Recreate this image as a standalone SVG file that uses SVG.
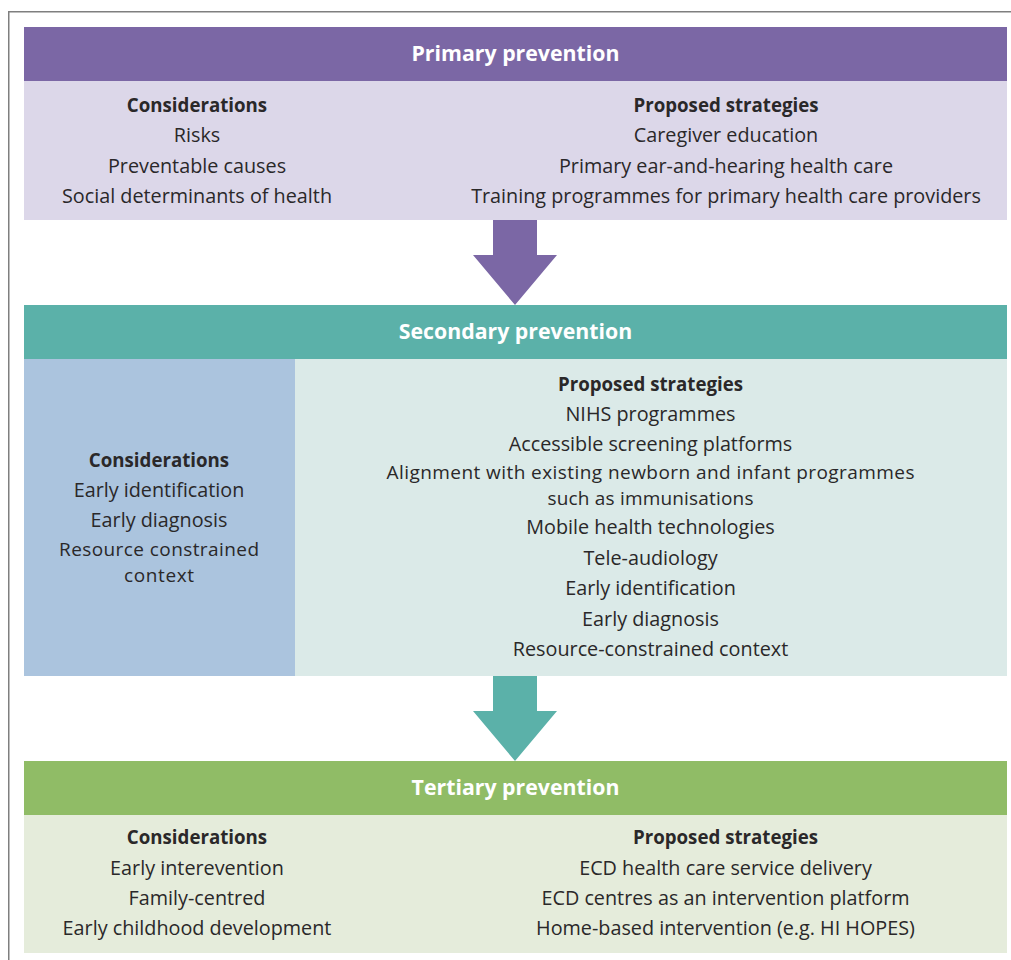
<svg xmlns="http://www.w3.org/2000/svg" width="1011" height="960" viewBox="0 0 1011 960">
<style>
.t{font-family:"Open Sans","Noto Sans","Liberation Sans",sans-serif;font-size:19.8px;fill:#2a2829;text-anchor:middle}
.w{font-size:19px}
.b{font-weight:bold;font-size:18.7px}
.h{font-family:"Open Sans","Noto Sans","Liberation Sans",sans-serif;font-size:21.3px;font-weight:bold;fill:#ffffff;text-anchor:middle}
</style>
<rect width="1011" height="960" fill="#ffffff"/>
<path d="M8.75 960 V11.75 H1011" fill="none" stroke="#7f7f7f" stroke-width="1.5"/>
<g id="primary">
<rect x="24" y="27" width="983" height="54" fill="#7b67a5"/>
<rect x="24" y="81" width="983" height="139" fill="#dcd7e9"/>
<text class="h" x="515.5" y="61">Primary prevention</text>
<text class="t b" x="197" y="112">Considerations</text>
<text class="t" x="197" y="142">Risks</text>
<text class="t" x="197" y="173">Preventable causes</text>
<text class="t" x="197" y="203">Social determinants of health</text>
<text class="t b" x="726" y="112">Proposed strategies</text>
<text class="t" x="726" y="142">Caregiver education</text>
<text class="t" x="726" y="173">Primary ear-and-hearing health care</text>
<text class="t" x="726" y="203">Training programmes for primary health care providers</text>
</g>
<g id="secondary">
<rect x="24" y="305" width="983" height="54" fill="#5bb1a9"/>
<rect x="24" y="359" width="271" height="317" fill="#abc4de"/>
<rect x="295" y="359" width="712" height="317" fill="#dbeae8"/>
<text class="h" x="515.5" y="339">Secondary prevention</text>
<text class="t b" x="159" y="467">Considerations</text>
<text class="t" x="159" y="497">Early identification</text>
<text class="t" x="159" y="527">Early diagnosis</text>
<text class="t w" x="159" y="556" textLength="200" lengthAdjust="spacing">Resource constrained</text>
<text class="t w" x="159" y="582" textLength="70" lengthAdjust="spacing">context</text>
<text class="t b" x="650.5" y="391">Proposed strategies</text>
<text class="t" x="650.5" y="421">NIHS programmes</text>
<text class="t" x="650.5" y="451">Accessible screening platforms</text>
<text class="t w" x="650.5" y="479" textLength="528" lengthAdjust="spacing">Alignment with existing newborn and infant programmes</text>
<text class="t w" x="650.5" y="505" textLength="206" lengthAdjust="spacing">such as immunisations</text>
<text class="t" x="650.5" y="534">Mobile health technologies</text>
<text class="t" x="650.5" y="565">Tele-audiology</text>
<text class="t" x="650.5" y="595">Early identification</text>
<text class="t" x="650.5" y="626">Early diagnosis</text>
<text class="t" x="650.5" y="656">Resource-constrained context</text>
</g>
<g id="tertiary">
<rect x="24" y="761" width="983" height="54" fill="#90bc66"/>
<rect x="24" y="815" width="983" height="138" fill="#e5ecdb"/>
<text class="h" x="515.5" y="795">Tertiary prevention</text>
<text class="t b" x="197" y="844">Considerations</text>
<text class="t" x="197" y="875">Early interevention</text>
<text class="t" x="197" y="905">Family-centred</text>
<text class="t" x="197" y="935">Early childhood development</text>
<text class="t b" x="725.5" y="844">Proposed strategies</text>
<text class="t" x="725.5" y="875">ECD health care service delivery</text>
<text class="t" x="725.5" y="905">ECD centres as an intervention platform</text>
<text class="t" x="725.5" y="935">Home-based intervention (e.g. HI HOPES)</text>
</g>
<g id="connectors">
<polygon points="493,220 537,220 537,255 557,255 515,305 473,255 493,255" fill="#7b67a5"/>
<polygon points="493,676 537,676 537,711 557,711 515,761 473,711 493,711" fill="#5bb1a9"/>
</g>
</svg>
